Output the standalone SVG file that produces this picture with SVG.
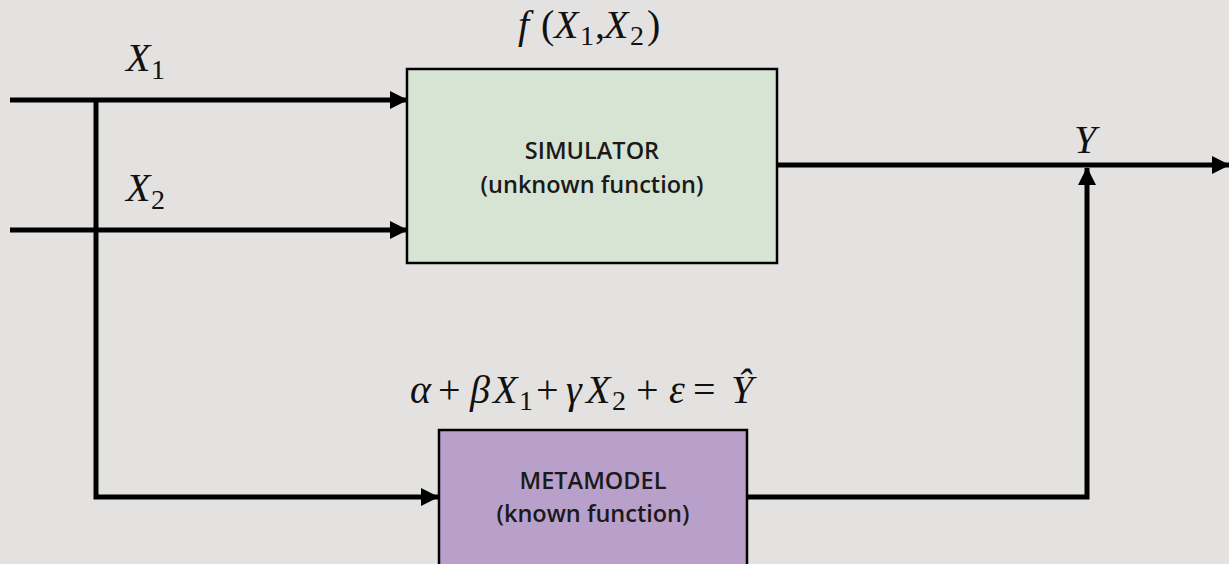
<svg xmlns="http://www.w3.org/2000/svg" width="1229" height="564" viewBox="0 0 1229 564">
<defs>
<style>
.wire{fill:none;stroke:#000;stroke-width:5;stroke-linejoin:miter;stroke-linecap:butt}
.box{stroke:#000;stroke-width:2.5}
.lbl{font-family:"Open Sans","Noto Sans",sans-serif;font-weight:600;font-size:23.5px;fill:#1a1a1a;text-anchor:middle}
.math{font-family:"Liberation Serif","DejaVu Serif",serif;font-size:40px;fill:#111}
.it{font-style:italic}
.sub{font-size:28px}
</style>
<marker id="ah" markerUnits="userSpaceOnUse" markerWidth="18" markerHeight="18" viewBox="0 0 18 18" refX="17" refY="9" orient="auto">
<path d="M0,0 L18,9 L0,18 z" fill="#000"/>
</marker>
</defs>
<rect width="1229" height="564" fill="#e3e2e0"/>
<g id="connectors">
<path class="wire" d="M10,100 H407" marker-end="url(#ah)"/>
<path class="wire" d="M10,230 H407" marker-end="url(#ah)"/>
<path class="wire" d="M96,100 V497 H438" marker-end="url(#ah)"/>
<path class="wire" d="M777,165 H1229" marker-end="url(#ah)"/>
<path class="wire" d="M747,497 H1087 V168" marker-end="url(#ah)"/>
</g>
<g id="simulator">
<rect class="box" x="407" y="69" width="370" height="194" fill="#d8e4d3"/>
<text class="lbl" x="592" y="159">SIMULATOR</text>
<text class="lbl" x="592" y="193">(unknown function)</text>
</g>
<g id="metamodel">
<rect class="box" x="439" y="430" width="308" height="140" fill="#b9a0cb"/>
<text class="lbl" x="593" y="489">METAMODEL</text>
<text class="lbl" x="593" y="522">(known function)</text>
</g>
<g id="labels">
<text class="math"><tspan class="it" x="126" y="71">X</tspan><tspan class="sub" x="151" y="79">1</tspan></text>
<text class="math"><tspan class="it" x="126" y="201">X</tspan><tspan class="sub" x="151" y="209">2</tspan></text>
<text class="math"><tspan class="it" x="1074" y="153">Y</tspan></text>
<text class="math"><tspan class="it" x="518" y="38">f</tspan><tspan x="541" y="38">(</tspan><tspan class="it" x="554" y="38">X</tspan><tspan class="sub" x="580" y="45">1</tspan><tspan x="595" y="38">,</tspan><tspan class="it" x="604" y="38">X</tspan><tspan class="sub" x="630" y="45">2</tspan><tspan x="647" y="38">)</tspan></text>
<text class="math"><tspan class="it" x="410" y="403">α</tspan><tspan x="438" y="403">+</tspan><tspan class="it" x="470" y="403">β</tspan><tspan class="it" x="493" y="403">X</tspan><tspan class="sub" x="519" y="410">1</tspan><tspan x="536" y="403">+</tspan><tspan class="it" x="566" y="403">γ</tspan><tspan class="it" x="586" y="403">X</tspan><tspan class="sub" x="612" y="410">2</tspan><tspan x="636" y="403">+</tspan><tspan class="it" x="669" y="403">ε</tspan><tspan x="693" y="403">=</tspan><tspan class="it" x="731" y="403">Ŷ</tspan></text>
</g>
</svg>
